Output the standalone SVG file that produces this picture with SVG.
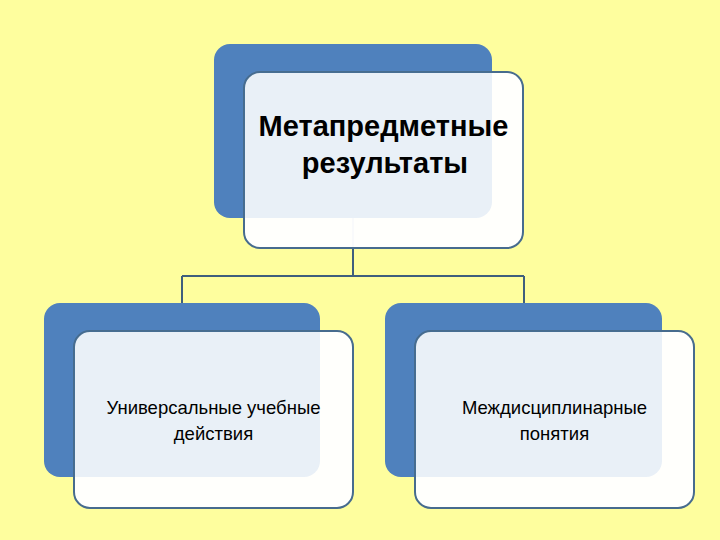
<svg xmlns="http://www.w3.org/2000/svg" width="720" height="540" viewBox="0 0 720 540">
<style>
.back{fill:#4f81bd;}
.front{fill:#ffffff;fill-opacity:0.97;stroke:#476c8e;stroke-width:2;}
.tint{fill:#4f81bd;fill-opacity:0.09;}
.conn{fill:none;stroke:#3f5f7d;stroke-width:2;}
.t{font-family:"Liberation Sans","Noto Sans",Arial,sans-serif;fill:#000;text-anchor:middle;}
.big{font-size:29px;font-weight:bold;}
.small{font-size:18.5px;}
</style>
<defs>
<clipPath id="c-top"><rect x="244" y="72" width="279" height="176" rx="16"/></clipPath>
<clipPath id="c-left"><rect x="74" y="331" width="279" height="177" rx="16"/></clipPath>
<clipPath id="c-right"><rect x="415" y="331" width="279" height="177" rx="16"/></clipPath>
</defs>
<rect width="720" height="540" fill="#fefe9e"/>
<g id="connectors">
<path class="conn" d="M353 218 V276 M182 276 H524 M182 276 V303 M524 276 V303"/>
</g>
<g id="node-top">
<rect class="back" x="214" y="44" width="278" height="174" rx="16"/>
<rect class="front" x="244" y="72" width="279" height="176" rx="16"/>
<rect class="tint" x="214" y="44" width="278" height="174" rx="16" clip-path="url(#c-top)"/>
<text class="t big" x="383.5" y="136">Метапредметные</text>
<text class="t big" x="385" y="173">результаты</text>
</g>
<g id="node-left">
<rect class="back" x="44" y="303" width="276" height="174" rx="16"/>
<rect class="front" x="74" y="331" width="279" height="177" rx="16"/>
<rect class="tint" x="44" y="303" width="276" height="174" rx="16" clip-path="url(#c-left)"/>
<text class="t small" x="213.5" y="414">Универсальные учебные</text>
<text class="t small" x="213.5" y="440">действия</text>
</g>
<g id="node-right">
<rect class="back" x="385" y="303" width="277" height="174" rx="16"/>
<rect class="front" x="415" y="331" width="279" height="177" rx="16"/>
<rect class="tint" x="385" y="303" width="277" height="174" rx="16" clip-path="url(#c-right)"/>
<text class="t small" x="554.5" y="414">Междисциплинарные</text>
<text class="t small" x="554.5" y="440">понятия</text>
</g>
</svg>
